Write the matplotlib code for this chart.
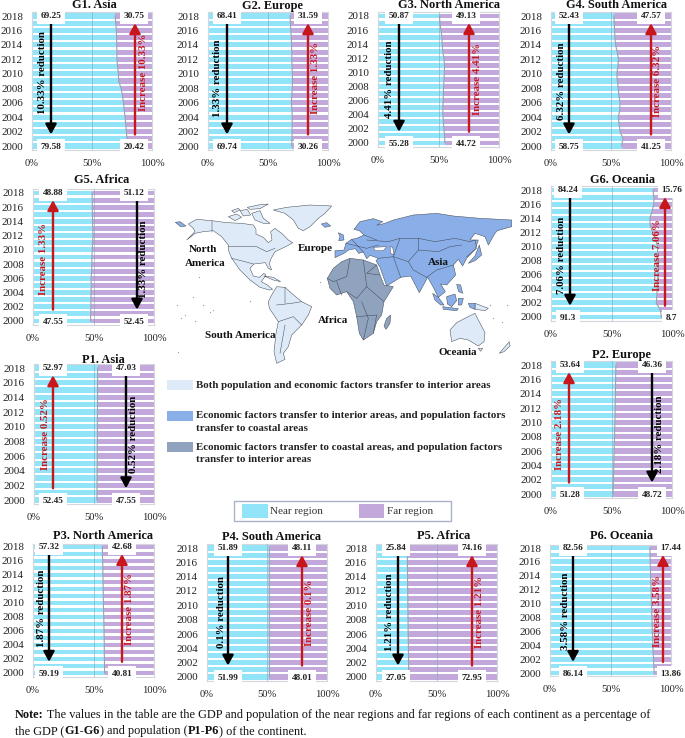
import matplotlib
matplotlib.use('Agg')
import matplotlib.pyplot as plt

plt.rcParams['font.family'] = ['Liberation Serif', 'DejaVu Serif']

W, H = 685, 738
NEAR_COL = '#92E5F8'
FAR_COL = '#C3A9DB'
RED = '#C8161D'

years = list(range(2000, 2019))

# near region share per year, far region is the rest
g1_near = [79.58, 79.2, 78.6, 78.1, 77.6, 76.8, 76.2, 75.4, 74.2, 72.2, 72.0, 71.3, 70.8, 70.7, 70.6, 70.5, 70.3, 69.8, 69.25]
g2_near = [69.74, 70.0, 70.0, 70.1, 70.2, 69.9, 69.5, 69.8, 70.2, 70.4, 70.3, 70.0, 69.9, 69.8, 69.6, 69.4, 69.0, 68.7, 68.41]
g3_near = [55.28, 55.0, 54.5, 54.0, 53.6, 53.6, 53.8, 54.0, 54.2, 54.5, 54.8, 55.0, 54.5, 53.5, 53.0, 52.8, 52.0, 51.2, 50.87]
g4_near = [58.75, 60.0, 57.6, 56.8, 56.0, 57.3, 57.5, 56.6, 56.0, 55.3, 54.8, 55.8, 56.2, 55.2, 53.8, 53.2, 53.0, 52.7, 52.43]
g5_near = [47.55, 47.6, 47.8, 47.9, 47.9, 48.2, 48.0, 48.4, 48.6, 48.7, 48.9, 49.2, 49.6, 49.4, 49.2, 49.1, 49.0, 48.9, 48.88]
g6_near = [91.3, 90.3, 87.0, 87.4, 87.7, 88.0, 88.3, 88.3, 88.2, 88.1, 88.0, 86.5, 84.0, 82.0, 81.7, 83.5, 85.0, 85.0, 84.24]
p1_near = [52.45, 52.5, 52.5, 52.6, 52.6, 52.7, 52.7, 52.7, 52.8, 52.8, 52.8, 52.8, 52.9, 52.9, 52.9, 52.9, 52.9, 53.0, 52.97]
p2_near = [51.28, 51.4, 51.5, 51.7, 51.9, 52.0, 52.2, 52.3, 52.5, 52.6, 52.8, 52.9, 53.0, 53.1, 53.2, 53.3, 53.4, 53.5, 53.64]
p3_near = [59.19, 59.1, 59.0, 58.9, 58.9, 58.8, 58.7, 58.6, 58.5, 58.3, 58.2, 58.1, 58.0, 57.9, 57.8, 57.7, 57.6, 57.4, 57.32]
p4_near = [51.99, 52.0, 52.0, 52.0, 52.0, 51.9, 51.9, 51.9, 51.9, 51.9, 51.9, 51.9, 51.9, 51.9, 51.9, 51.9, 51.9, 51.9, 51.89]
p5_near = [27.05, 27.0, 26.9, 26.8, 26.8, 26.7, 26.6, 26.5, 26.5, 26.4, 26.3, 26.3, 26.2, 26.1, 26.1, 26.0, 25.9, 25.9, 25.84]
p6_near = [86.14, 85.8, 85.5, 85.2, 85.0, 84.8, 84.6, 84.4, 84.2, 84.0, 83.8, 83.7, 83.5, 83.3, 83.1, 83.0, 82.8, 82.7, 82.56]

titles = ['G1. Asia', 'G2. Europe', 'G3. North America', 'G4. South America', 'G5. Africa', 'G6. Oceania',
          'P1. Asia', 'P2. Europe', 'P3. North America', 'P4. South America', 'P5. Africa', 'P6. Oceania']
near_series = [g1_near, g2_near, g3_near, g4_near, g5_near, g6_near,
               p1_near, p2_near, p3_near, p4_near, p5_near, p6_near]
# printed labels: near 2018, far 2018, near 2000, far 2000
value_labels = [('69.25', '30.75', '79.58', '20.42'), ('68.41', '31.59', '69.74', '30.26'),
                ('50.87', '49.13', '55.28', '44.72'), ('52.43', '47.57', '58.75', '41.25'),
                ('48.88', '51.12', '47.55', '52.45'), ('84.24', '15.76', '91.3', '8.7'),
                ('52.97', '47.03', '52.45', '47.55'), ('53.64', '46.36', '51.28', '48.72'),
                ('57.32', '42.68', '59.19', '40.81'), ('51.89', '48.11', '51.99', '48.01'),
                ('25.84', '74.16', '27.05', '72.95'), ('82.56', '17.44', '86.14', '13.86')]
near_notes = ['10.33% reduction', '1.33% reduction', '4.41% reduction', '6.32% reduction', 'Increase 1.33%',
              '7.06% reduction', 'Increase 0.52%', 'Increase 2.18%', '1.87% reduction', '0.1% reduction',
              '1.21% reduction', '3.58% reduction']
far_notes = ['Increase 10.33%', 'Increase 1.33%', 'Increase 4.41%', 'Increase 6.32%', '1.33% reduction',
             'Increase 7.06%', '0.52% reduction', '2.18% reduction', 'Increase 1.87%', 'Increase 0.1%',
             'Increase 1.21%', 'Increase 3.58%']

# layout in pixels of the picture: left, right, y of 2018, y of 2000
boxes = [(32, 152, 16, 146), (208, 328, 16, 146), (378, 499, 16, 143), (551, 671, 16, 146),
         (33, 154, 193, 321), (551, 672, 190, 317), (34, 154, 368, 500), (551, 672, 365, 494),
         (33, 154, 547, 673), (207, 327, 548, 677), (376, 497, 548, 677), (550, 671, 548, 673)]
title_pos = [(94, 5.5), (272, 5.5), (449, 5), (616, 5.5), (102, 180), (623, 180),
             (103, 360), (622, 355), (103, 536), (271, 537), (444, 536), (621, 536)]
# arrow x (pixels) near side, far side
arrow_x = [(51, 135), (227, 308), (399, 469), (569, 651), (53, 137), (570, 665),
           (53, 126), (569, 652), (49, 122), (228, 302), (398, 472), (573, 663)]
# rotated note x (pixels) near side, far side
note_x = [(43, 143), (218, 315), (390, 477), (562, 658), (44, 144), (562, 658),
          (46, 133), (560, 660), (41, 130), (221, 310), (390, 479), (566, 657)]
# value label x (pixels) near side, far side
label_x = [(51, 134), (227, 308), (399, 466), (569, 651), (53, 134), (568, 672),
           (53, 126), (570, 652), (49, 122), (228, 302), (396, 472), (573, 671)]
note_year = [2010.2, 2009.4, 2009, 2009, 2008.7, 2008.7, 2009, 2008.4, 2009.2, 2009, 2009, 2008.9]

# map outlines, traced in a 3x frame of the map area
map_light = [
    [(85, 102), (110, 88), (155, 92), (200, 98), (245, 100), (280, 105), (288, 118), (288, 132), (310, 142), (325, 158),
     (336, 150), (332, 125), (345, 115), (365, 130), (385, 150), (398, 158), (385, 166), (360, 178), (345, 185), (332, 208),
     (328, 222), (335, 240), (325, 235), (316, 218), (282, 222), (270, 235), (280, 258), (298, 262), (312, 250), (318, 255),
     (304, 275), (322, 285), (338, 298), (328, 300), (300, 292), (270, 270), (240, 240), (215, 205), (205, 180), (205, 165),
     (185, 140), (160, 122), (130, 125), (105, 130), (80, 150), (105, 125), (100, 115)],
    [(205, 80), (230, 72), (245, 82), (225, 92)],
    [(240, 62), (262, 58), (272, 75), (250, 78)],
    [(275, 70), (300, 62), (310, 85), (330, 100), (310, 100), (285, 90)],
    [(215, 62), (235, 55), (240, 60), (222, 68)],
    [(262, 52), (300, 44), (325, 42), (300, 56), (270, 58)],
    [(340, 60), (380, 52), (450, 45), (515, 48), (495, 70), (475, 85), (450, 110), (430, 122), (415, 115), (400, 90), (375, 70)],
    [(350, 290), (375, 292), (395, 310), (425, 335), (455, 350), (445, 375), (425, 405), (395, 435), (385, 470), (370, 490),
     (375, 508), (350, 520), (342, 485), (348, 430), (355, 395), (328, 355), (325, 335), (335, 315)],
    [(312, 258), (340, 262), (362, 275), (340, 270)],
    [(870, 420), (890, 398), (920, 382), (945, 370), (955, 390), (975, 428), (972, 455), (955, 468), (925, 450), (900, 445), (875, 455)],
    [(955, 475), (968, 475), (962, 484)],
    [(1018, 490), (1035, 470), (1048, 455), (1050, 468), (1032, 485)],
    [(945, 340), (985, 355), (975, 362), (945, 358)],
]
map_blue = [
    [(525, 203), (525, 182), (552, 180), (558, 160), (575, 148), (590, 145), (612, 135), (598, 122), (582, 118), (600, 95),
     (640, 86), (668, 95), (650, 106), (675, 100), (700, 90), (760, 75), (830, 70), (880, 78), (960, 85), (1055, 90),
     (1055, 110), (1012, 122), (1005, 130), (985, 165), (975, 140), (945, 130), (930, 150), (955, 150), (945, 178),
     (920, 205), (908, 228), (895, 208), (880, 225), (887, 255), (860, 285), (842, 282), (856, 305), (835, 322), (820, 292),
     (803, 262), (778, 308), (752, 258), (722, 262), (680, 288), (660, 232), (648, 212), (655, 205), (630, 196), (620, 206),
     (610, 186), (596, 190), (586, 176), (566, 180), (552, 190)],
    [(535, 128), (550, 135), (552, 150), (536, 152), (540, 140)],
    [(484, 102), (500, 98), (512, 108), (495, 112)],
    [(925, 220), (945, 198), (958, 165), (965, 195), (945, 212)],
    [(818, 310), (835, 322), (852, 345), (842, 345), (825, 330)],
    [(860, 320), (885, 312), (890, 332), (875, 350), (862, 342)],
    [(848, 350), (895, 356), (890, 362), (850, 358)],
    [(895, 325), (910, 325), (905, 345), (895, 345)],
    [(925, 340), (945, 340), (945, 358), (930, 352)],
    [(890, 283), (902, 285), (908, 310), (896, 305)],
    [(46, 97), (60, 95), (78, 108), (62, 110)],
]
map_gray = [
    [(502, 265), (520, 235), (545, 215), (570, 205), (610, 210), (650, 225), (660, 255), (672, 285), (700, 290), (672, 335),
     (665, 375), (650, 395), (640, 430), (610, 450), (598, 430), (590, 380), (580, 335), (560, 305), (530, 315), (510, 295)],
    [(680, 385), (692, 375), (690, 400), (678, 418), (672, 408)],
]
map_lakes = [
    [(690, 170), (698, 172), (702, 195), (692, 190)],
    [(640, 172), (680, 170), (670, 182), (645, 182)],
]
map_borders = [
    [(155, 92), (155, 125)], [(205, 170), (290, 170), (320, 185), (345, 175)], [(215, 205), (255, 215), (280, 222)],
    [(570, 205), (560, 260), (520, 275), (502, 265)], [(610, 210), (620, 290), (590, 325), (560, 305)],
    [(650, 225), (620, 250), (660, 255)], [(620, 290), (672, 335)], [(590, 380), (650, 375), (640, 430)],
    [(605, 335), (625, 385), (610, 450)], [(530, 275), (545, 315)],
    [(350, 345), (395, 340), (425, 335)], [(355, 395), (400, 380), (425, 405)], [(375, 405), (360, 490)], [(375, 292), (375, 340)],
    [(685, 155), (720, 145), (775, 145), (825, 155), (885, 145), (930, 155), (945, 150), (950, 175), (920, 200)],
    [(775, 180), (835, 185), (870, 170), (905, 165)], [(775, 145), (775, 180), (745, 215), (760, 240), (800, 262)],
    [(720, 145), (700, 200), (745, 215)], [(655, 205), (700, 200), (722, 262)], [(800, 262), (830, 240), (880, 225)],
    [(620, 150), (685, 155)], [(575, 148), (610, 186)], [(558, 160), (620, 175), (655, 165)], [(612, 135), (650, 150)],
]
map_specks = [(50, 345), (62, 385), (75, 375), (100, 320), (105, 392), (118, 260), (128, 345), (150, 365), (160, 360),
              (270, 333), (480, 275), (55, 485), (1000, 385), (1025, 395), (1040, 345), (990, 345)]
map_names = [('North', 130, 178), ('America', 135, 222), ('Europe', 467, 175), ('Asia', 835, 217),
             ('Africa', 520, 392), ('South America', 242, 435), ('Oceania', 893, 488)]
legend_rows = [('#DEEAF8', 586, ['Both population and economic factors transfer to interior areas']),
               ('#8AAEE8', 677, ['Economic factors transfer to interior areas, and population factors', 'transfer to coastal areas']),
               ('#8FA3BF', 771, ['Economic factors transfer to coastal areas, and population factors', 'transfer to interior areas'])]


def px(p):
    return 160 + p[0] / 3, 190 + p[1] / 3


def draw_panel(fig, i):
    left, right, y18, y00 = boxes[i]
    near = near_series[i]
    far = [100 - v for v in near]
    pitch = (y00 - y18) / 18
    top, bottom = y18 - pitch / 2, y00 + pitch / 2
    ax = fig.add_axes([left / W, 1 - bottom / H, (right - left) / W, (bottom - top) / H])
    ax.barh(years, near, height=0.7, color=NEAR_COL)
    ax.barh(years, far, left=near, height=0.7, color=FAR_COL)
    ax.plot(near, years, color='#9aa3ad', lw=0.8)
    ax.axvline(50, color='#7f9fb5', lw=0.6, alpha=0.6, zorder=3)
    ax.set_xlim(0, 100)
    ax.set_ylim(1999.5, 2018.5)
    ax.set_xticks([0, 50, 100], ['0%', '50%', '100%'])
    ax.set_yticks(years[::2])
    ax.tick_params(axis='x', length=0, pad=6.5, labelsize=7.6, colors='#222222')
    ax.tick_params(axis='y', length=0, pad=6.5, labelsize=7.9, colors='#222222')
    for side in ['top', 'left', 'right', 'bottom']:
        ax.spines[side].set_color('#d3d6dc')
        ax.spines[side].set_linewidth(0.8)
    fig.text(title_pos[i][0] / W, 1 - title_pos[i][1] / H, titles[i], fontsize=8.9, fontweight='bold',
             ha='center', va='center', color='#111111')

    def to_x(p):
        return (p - left) / (right - left) * 100

    notes = (near_notes[i], far_notes[i])
    for k in range(2):
        up = notes[k].startswith('Increase')
        col = RED if up else 'black'
        start, end = (2001.6, 2017.0) if up else (2017.0, 2001.6)
        ax.annotate('', xy=(to_x(arrow_x[i][k]), end), xytext=(to_x(arrow_x[i][k]), start), zorder=6,
                    arrowprops=dict(arrowstyle='-|>,head_width=0.3,head_length=0.55', color=col, lw=1.7,
                                    mutation_scale=11, shrinkA=0, shrinkB=0))
        ax.text(to_x(note_x[i][k]), note_year[i], notes[k], rotation=90, ha='center', va='center', fontsize=7.8,
                fontweight='bold', color=col, zorder=7)
        for txt, yr in ((value_labels[i][k], 2018), (value_labels[i][k + 2], 2000)):
            ax.text(to_x(label_x[i][k]), yr - 0.05 if yr == 2018 else yr - 0.1, txt, ha='center', va='center',
                    fontsize=6.7, fontweight='bold', color='#222222', zorder=8,
                    bbox=dict(boxstyle='square,pad=0.42', fc='white', ec='none'))


def draw_map(ov):
    for polys, col in ((map_light, '#DEEAF8'), (map_blue, '#8AAEE8'), (map_gray, '#8FA3BF')):
        for poly in polys:
            xs, ys = zip(*[px(p) for p in poly])
            ov.fill(xs, ys, facecolor=col, edgecolor='#3f4650', lw=0.35)
    for poly in map_lakes:
        xs, ys = zip(*[px(p) for p in poly])
        ov.fill(xs, ys, facecolor='white', edgecolor='#3f4650', lw=0.3)
    for line in map_borders:
        xs, ys = zip(*[px(p) for p in line])
        ov.plot(xs, ys, color='#3f4650', lw=0.35)
    xs, ys = zip(*[px(p) for p in map_specks])
    ov.scatter(xs, ys, s=0.8, color='#9a9a9a', linewidths=0)
    for name, x, y in map_names:
        ov.text(*px((x, y)), name, ha='center', va='center', fontsize=8, fontweight='bold', color='#111111')
    for col, y, lines in legend_rows:
        x0, y0 = px((20, y))
        ov.add_patch(plt.Rectangle((x0, y0 - 5), 26, 10, fc=col, ec='none'))
        for j, line in enumerate(lines):
            ov.text(196, y0 + j * 13, line, ha='left', va='center', fontsize=7.85, fontweight='bold', color='#222222')


def draw_legend(ov):
    ov.add_patch(plt.Rectangle((234, 501), 217, 20, fc='white', ec='#a9b3c6', lw=1))
    ov.add_patch(plt.Rectangle((242, 504), 26, 14, fc=NEAR_COL, ec='none'))
    ov.add_patch(plt.Rectangle((359, 504), 25, 14, fc=FAR_COL, ec='none'))
    ov.text(270, 511, 'Near region', va='center', fontsize=8, color='#333333')
    ov.text(387, 511, 'Far region', va='center', fontsize=8, color='#333333')


def write_runs(fig, ov, x, y, runs):
    rend = fig.canvas.get_renderer()
    for txt, weight in runs:
        t = ov.text(x, y, txt, va='center', ha='left', fontsize=8.85, fontweight=weight, color='#111111')
        x = t.get_window_extent(rend).x1 + (2.6 if txt.endswith(' ') else 0)


fig = plt.figure(figsize=(W / 100, H / 100), dpi=100)
ov = fig.add_axes([0, 0, 1, 1], zorder=-1)
ov.set_xlim(0, W)
ov.set_ylim(H, 0)
ov.axis('off')

for i in range(len(titles)):
    draw_panel(fig, i)
draw_map(ov)
draw_legend(ov)
write_runs(fig, ov, 15, 715, [('Note:', 'bold'),
                              (' The values in the table are the GDP and population of the near regions and far regions of each continent as a percentage of', 'normal')])
write_runs(fig, ov, 15, 731, [('the GDP (', 'normal'), ('G1-G6', 'bold'), (') and population (', 'normal'),
                              ('P1-P6', 'bold'), (') of the continent.', 'normal')])

fig.savefig('out.png', dpi=100)
